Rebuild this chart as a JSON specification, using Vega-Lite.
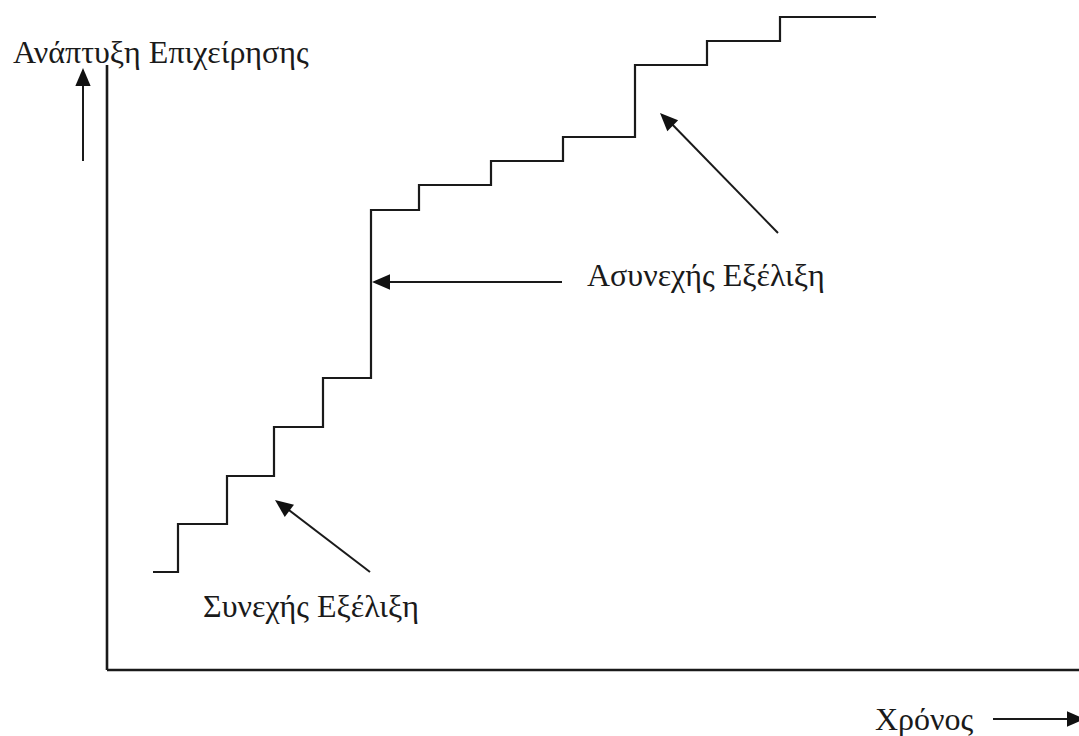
{
  "$schema": "https://vega.github.io/schema/vega-lite/v6.json",
  "width": 1079,
  "height": 736,
  "padding": 0,
  "autosize": {"type": "none"},
  "background": "#ffffff",
  "config": {"view": {"stroke": null}},
  "datasets": {
    "steps": [
      {"t": 153, "g": 164},
      {"t": 178, "g": 212},
      {"t": 227, "g": 260},
      {"t": 274, "g": 309},
      {"t": 323, "g": 358},
      {"t": 371, "g": 526},
      {"t": 419, "g": 551},
      {"t": 491, "g": 575},
      {"t": 563, "g": 599},
      {"t": 635, "g": 671},
      {"t": 707, "g": 695},
      {"t": 780, "g": 719},
      {"t": 876, "g": 719}
    ],
    "axes": [
      {"t": 107, "g": 66, "t2": 107, "g2": 671},
      {"t": 107, "g": 66, "t2": 1079, "g2": 66}
    ],
    "arrows": [
      {"name": "up", "t": 83, "g": 575, "t2": 83, "g2": 662, "ang": 0},
      {"name": "discontinuous", "t": 562, "g": 454, "t2": 378, "g2": 454, "ang": 270},
      {"name": "continuous", "t": 370, "g": 164, "t2": 281, "g2": 232, "ang": 307},
      {"name": "top", "t": 778, "g": 503, "t2": 666, "g2": 618, "ang": 315},
      {"name": "time", "t": 993, "g": 17, "t2": 1076, "g2": 17, "ang": 90}
    ],
    "heads": [
      {"name": "up", "t": 83, "g": 668, "ang": 0},
      {"name": "discontinuous", "t": 372, "g": 454, "ang": 270},
      {"name": "continuous", "t": 275, "g": 236, "ang": 307},
      {"name": "top", "t": 660, "g": 623, "ang": 315},
      {"name": "time", "t": 1085, "g": 17, "ang": 90}
    ],
    "labels": [
      {"label": "Ανάπτυξη Επιχείρησης", "t": 13, "g": 673},
      {"label": "Ασυνεχής Εξέλιξη", "t": 587, "g": 450},
      {"label": "Συνεχής Εξέλιξη", "t": 203, "g": 119},
      {"label": "Χρόνος", "t": 875, "g": 6}
    ]
  },
  "layer": [
    {
      "data": {"name": "axes"},
      "mark": {"type": "rule", "stroke": "#1a1a1a", "strokeWidth": 2.6},
      "encoding": {
        "x": {"field": "t", "type": "quantitative", "scale": {"domain": [0, 1079], "nice": false, "zero": false}, "axis": null},
        "y": {"field": "g", "type": "quantitative", "scale": {"domain": [0, 736], "nice": false, "zero": false}, "axis": null},
        "x2": {"field": "t2"},
        "y2": {"field": "g2"}
      }
    },
    {
      "data": {"name": "steps"},
      "mark": {"type": "line", "interpolate": "step-after", "stroke": "#1a1a1a", "strokeWidth": 2.2},
      "encoding": {
        "x": {"field": "t", "type": "quantitative"},
        "y": {"field": "g", "type": "quantitative"}
      }
    },
    {
      "data": {"name": "arrows"},
      "mark": {"type": "rule", "stroke": "#1a1a1a", "strokeWidth": 2},
      "encoding": {
        "x": {"field": "t", "type": "quantitative"},
        "y": {"field": "g", "type": "quantitative"},
        "x2": {"field": "t2"},
        "y2": {"field": "g2"}
      }
    },
    {
      "data": {"name": "heads"},
      "mark": {"type": "point", "shape": "M0,0L0.85,2L-0.85,2Z", "filled": true, "color": "#111111", "size": 324, "opacity": 1},
      "encoding": {
        "x": {"field": "t", "type": "quantitative"},
        "y": {"field": "g", "type": "quantitative"},
        "angle": {"field": "ang", "type": "quantitative", "scale": null}
      }
    },
    {
      "data": {"name": "labels"},
      "mark": {"type": "text", "font": "Liberation Serif", "fontSize": 32, "align": "left", "baseline": "alphabetic", "color": "#1a1a1a"},
      "encoding": {
        "x": {"field": "t", "type": "quantitative"},
        "y": {"field": "g", "type": "quantitative"},
        "text": {"field": "label"}
      }
    }
  ]
}
